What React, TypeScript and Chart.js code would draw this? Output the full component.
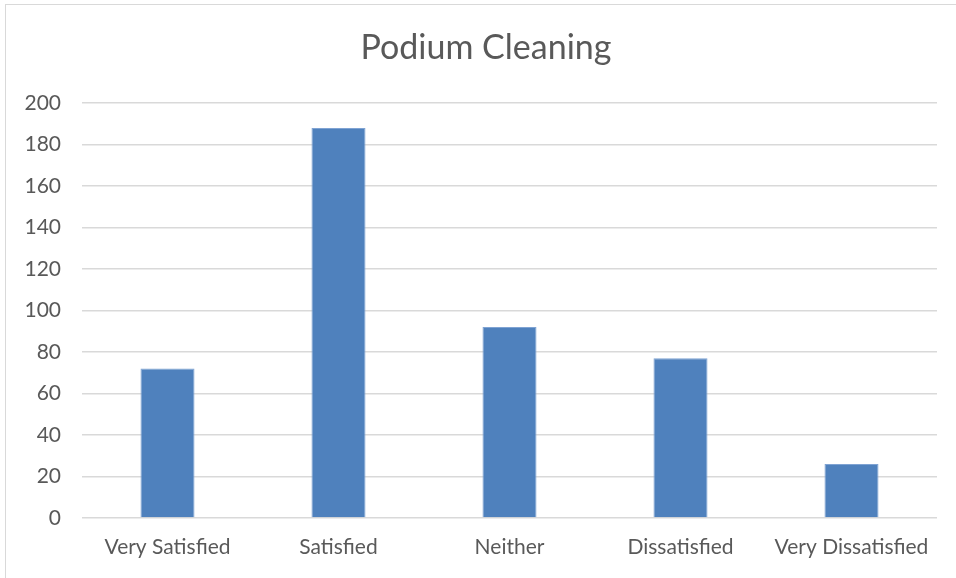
import React, { useEffect, useRef } from "react";
import { Chart, registerables } from "chart.js";

Chart.register(...registerables);

const categories = ["Very Satisfied", "Satisfied", "Neither", "Dissatisfied", "Very Dissatisfied"];
const values = [72, 188, 92, 77, 26];
const chartTitle = "Podium Cleaning";

const titlePlugin = {
  id: "centeredTitle",
  afterDraw(chart: any) {
    const c = chart.ctx;
    c.save();
    c.fillStyle = "#595959";
    c.font = "normal 34px Lato";
    c.textAlign = "center";
    c.textBaseline = "middle";
    c.fillText(chartTitle, 486, 48);
    c.restore();
  },
};

export default function App() {
  const ref = useRef<HTMLCanvasElement | null>(null);

  useEffect(() => {
    document.body.style.margin = "0";
    const ctx = ref.current!;
    const chart = new Chart(ctx, {
      type: "bar",
      data: {
        labels: categories,
        datasets: [
          {
            data: values,
            backgroundColor: "#4F81BD",
            borderColor: "#7FA3D3",
            borderWidth: 1,
            categoryPercentage: 1,
            barPercentage: 0.316,
          },
        ],
      },
      plugins: [titlePlugin],
      options: {
        animation: false,
        responsive: false,
        maintainAspectRatio: false,
        layout: { padding: { left: 0, right: 19, top: 103, bottom: 0 } },
        plugins: {
          legend: { display: false },
          tooltip: { enabled: false },
          title: { display: false },
        },
        scales: {
          x: {
            grid: { display: false, drawTicks: false },
            border: { display: false },
            ticks: {
              color: "#595959",
              font: { family: "Lato", size: 21 },
              padding: 17,
              maxRotation: 0,
              autoSkip: false,
            },
            afterFit: (scale: any) => {
              scale.height = 60;
            },
          },
          y: {
            min: 0,
            max: 200,
            ticks: {
              stepSize: 20,
              color: "#595959",
              font: { family: "Lato", size: 21 },
              padding: 21,
            },
            grid: { color: "#D9D9D9", lineWidth: 1.5, drawTicks: false },
            border: { display: false },
            afterFit: (scale: any) => {
              scale.width = 82;
            },
          },
        },
      },
    });
    return () => chart.destroy();
  }, []);

  return (
    <div style={{ position: "relative", width: 956, height: 578, background: "#fff" }}>
      <canvas ref={ref} width={956} height={578} style={{ position: "absolute", left: 0, top: 0 }} />
      <div
        style={{
          position: "absolute",
          left: 5,
          top: 4,
          width: 960,
          height: 580,
          border: "1px solid #D9D9D9",
          pointerEvents: "none",
        }}
      />
    </div>
  );
}
